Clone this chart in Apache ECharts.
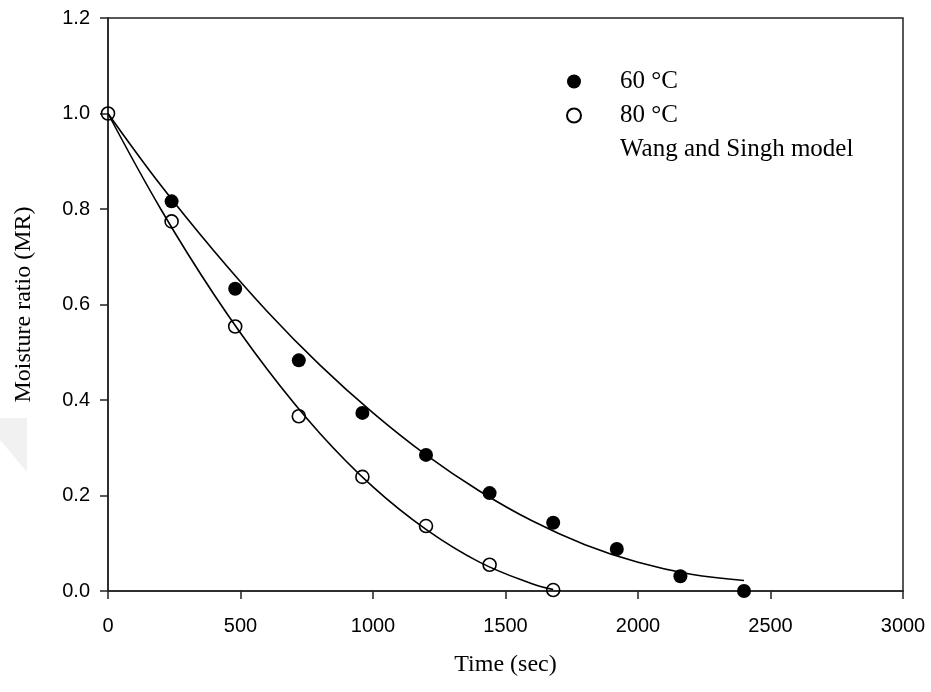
<!DOCTYPE html>
<html>
<head>
<meta charset="utf-8">
<script src="https://cdn.jsdelivr.net/npm/echarts@6/dist/echarts.min.js"></script>
<style>html,body{margin:0;padding:0;background:#fff}#c{width:931px;height:692px}</style>
</head>
<body>
<div id="c"></div>
<script>
// Measured data (time in sec, moisture ratio)
var time60 = [240, 480, 720, 960, 1200, 1440, 1680, 1920, 2160, 2400];
var mr60 = [0.816, 0.633, 0.483, 0.373, 0.285, 0.205, 0.143, 0.088, 0.031, 0.0];
var time80 = [0, 240, 480, 720, 960, 1200, 1440, 1680];
var mr80 = [1.0, 0.774, 0.554, 0.366, 0.239, 0.136, 0.055, 0.002];

// Model curves
var fitTime60 = [0, 200, 400, 600, 800, 1000, 1200, 1400, 1600, 1800, 2000, 2200, 2400];
var fit60 = [1.0, 0.849, 0.712, 0.586, 0.473, 0.373, 0.285, 0.210, 0.147, 0.097, 0.060, 0.035, 0.022];
var fitTime80 = [0, 200, 400, 600, 800, 1000, 1200, 1400, 1600, 1680];
var fit80 = [1.0, 0.799, 0.621, 0.465, 0.330, 0.218, 0.129, 0.061, 0.015, 0.003];

var xTicks = [0, 500, 1000, 1500, 2000, 2500, 3000];
var yTicks = [0.0, 0.2, 0.4, 0.6, 0.8, 1.0, 1.2];

var seriesNames = ['60 °C', '80 °C', 'Wang and Singh model'];
var xTitle = 'Time (sec)';
var yTitle = 'Moisture ratio (MR)';

function pairs(xs, ys) { return ys.map(function (v, i) { return [xs[i], v]; }); }

var chart = echarts.init(document.getElementById('c'), null, {renderer: 'canvas'});
var tickFont = {fontFamily: 'Liberation Sans, Arial, sans-serif', fontSize: 20, color: '#000'};
var serif = 'Liberation Serif, Times New Roman, serif';

chart.setOption({
  animation: false,
  backgroundColor: '#fff',
  grid: {left: 108, right: 28, top: 18, bottom: 101, show: true, borderColor: '#222', borderWidth: 1.5, backgroundColor: 'transparent'},
  graphic: [{
    type: 'polygon', z: -10, silent: true,
    shape: {points: [[0, 418], [27, 418], [27, 472], [0, 440]]},
    style: {fill: '#f1f1f1'}
  }],
  legend: {
    orient: 'vertical', left: 527, top: 62,
    itemWidth: 82, itemHeight: 14, itemGap: 5,
    textStyle: {fontFamily: serif, fontSize: 25, color: '#000', lineHeight: 29},
    data: [
      {name: seriesNames[0]},
      {name: seriesNames[1]},
      {name: seriesNames[2], itemStyle: {opacity: 0}, lineStyle: {opacity: 0}}
    ]
  },
  xAxis: {
    type: 'value', min: xTicks[0], max: xTicks[xTicks.length - 1], interval: 500,
    name: xTitle, nameLocation: 'middle', nameGap: 62,
    nameTextStyle: {fontFamily: serif, fontSize: 24, color: '#000'},
    axisLine: {show: true, lineStyle: {color: '#222', width: 1.5}},
    axisTick: {show: true, inside: false, length: 8, lineStyle: {color: '#222', width: 1.5}},
    axisLabel: Object.assign({margin: 25, formatter: function (v) { return String(v); }}, tickFont),
    splitLine: {show: false}
  },
  yAxis: {
    type: 'value', min: yTicks[0], max: yTicks[yTicks.length - 1], interval: 0.2,
    name: yTitle, nameLocation: 'middle', nameGap: 72, nameRotate: 90,
    nameTextStyle: {fontFamily: serif, fontSize: 24, color: '#000'},
    axisLine: {show: true, lineStyle: {color: '#222', width: 1.5}},
    axisTick: {show: true, inside: false, length: 8, lineStyle: {color: '#222', width: 1.5}},
    axisLabel: Object.assign({margin: 18, formatter: function (v) { return v.toFixed(1); }}, tickFont),
    splitLine: {show: false}
  },
  series: [
    {
      name: seriesNames[2], type: 'line', smooth: 0.4, showSymbol: false, symbol: 'none',
      data: pairs(fitTime60, fit60), lineStyle: {color: '#000', width: 1.6}, itemStyle: {color: '#000'}, z: 3
    },
    {
      name: seriesNames[2], type: 'line', smooth: 0.4, showSymbol: false, symbol: 'none',
      data: pairs(fitTime80, fit80), lineStyle: {color: '#000', width: 1.6}, itemStyle: {color: '#000'}, z: 3
    },
    {
      name: seriesNames[0], type: 'scatter', symbol: 'circle', symbolSize: 14,
      data: pairs(time60, mr60), itemStyle: {color: '#000', borderColor: '#000', borderWidth: 0, opacity: 1}, z: 4
    },
    {
      name: seriesNames[1], type: 'scatter', symbol: 'circle', symbolSize: 13,
      data: pairs(time80, mr80), itemStyle: {color: 'rgba(255,255,255,0)', borderColor: '#000', borderWidth: 1.6, opacity: 1}, z: 4
    }
  ]
});
</script>
</body>
</html>
